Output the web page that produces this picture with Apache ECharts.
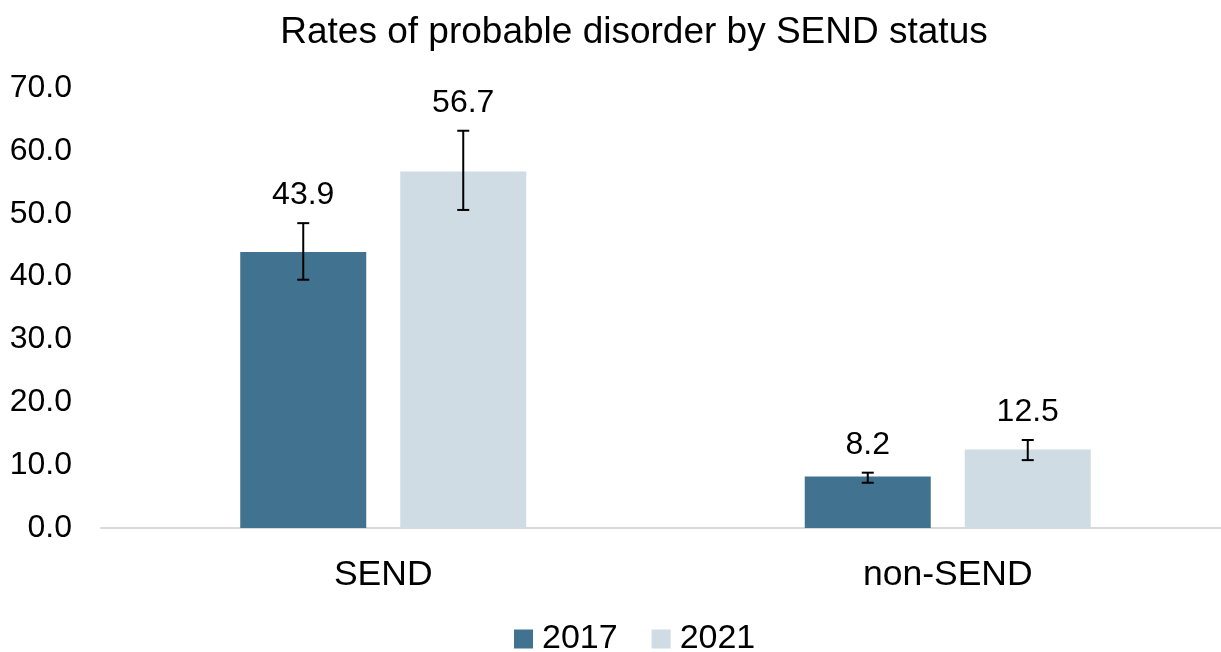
<!DOCTYPE html>
<html>
<head>
<meta charset="utf-8">
<script src="https://cdn.jsdelivr.net/npm/echarts@6/dist/echarts.min.js"></script>
<style>
	html, body { margin: 0; padding: 0; background: #ffffff; overflow: hidden; }
	#chart { width: 1230px; height: 652px; }
</style>
</head>
<body>
<div id="chart"></div>
<script>
const categories = ["SEND", "non-SEND"];
const seriesNames = ["2017", "2021"];
const values2017 = [43.9, 8.2];
const values2021 = [56.7, 12.5];
// error bar bounds
const low2017 = [39.5, 7.2];
const high2017 = [48.5, 8.8];
const low2021 = [50.6, 10.8];
const high2021 = [63.2, 14.0];
const yTicks = [0, 10, 20, 30, 40, 50, 60, 70];

const fontFamily = "'Liberation Sans', Arial, sans-serif";
const colours = ["#41728f", "#cfdce4"];
const barWidth = 126;
const barGapPx = 34;

function errorSeries(idx, values, lows, highs) {
	const shift = (idx === 0 ? -1 : 1) * (barWidth + barGapPx) / 2;
	return {
		type: "custom",
		name: seriesNames[idx] + " error",
		silent: true,
		z: 5,
		data: categories.map((c, i) => [i, lows[i], highs[i], values[i]]),
		renderItem: function (params, api) {
			const top = api.coord([api.value(0), api.value(2)]);
			const bot = api.coord([api.value(0), api.value(1)]);
			const x = top[0] + shift;
			const cap = 6;
			const style = { stroke: "#000", lineWidth: 2 };
			return {
				type: "group",
				children: [
					{ type: "line", shape: { x1: x, y1: top[1], x2: x, y2: bot[1] }, style: style },
					{ type: "line", shape: { x1: x - cap, y1: top[1], x2: x + cap, y2: top[1] }, style: style },
					{ type: "line", shape: { x1: x - cap, y1: bot[1], x2: x + cap, y2: bot[1] }, style: style },
					{
						type: "text",
						style: {
							x: x,
							y: top[1] - 12,
							text: api.value(3).toFixed(1),
							fill: "#000",
							font: "32px " + fontFamily,
							align: "center",
							verticalAlign: "bottom",
						},
					},
				],
			};
		},
	};
}

const chart = echarts.init(document.getElementById("chart"));
chart.setOption({
	animation: false,
	textStyle: { fontFamily: fontFamily },
	title: {
		text: "Rates of probable disorder by SEND status",
		left: 629,
		textAlign: "center",
		top: 9,
		textStyle: { fontSize: 37, fontWeight: "normal", color: "#000", fontFamily: fontFamily },
	},
	legend: {
		data: seriesNames,
		bottom: -9,
		left: 509,
		itemWidth: 19,
		itemHeight: 19,
		itemGap: 34,
		icon: "rect",
		textStyle: { fontSize: 34, color: "#000", fontFamily: fontFamily, padding: [0, 0, 0, 4] },
	},
	grid: { left: 101, right: 0, top: 88, bottom: 124, containLabel: false },
	xAxis: {
		type: "category",
		data: categories,
		axisLine: { lineStyle: { color: "#d9d9d9", width: 2 } },
		axisTick: { show: false },
		axisLabel: { fontSize: 35.5, color: "#000", margin: 29 },
	},
	yAxis: {
		type: "value",
		min: yTicks[0],
		max: yTicks[yTicks.length - 1],
		interval: 10,
		splitLine: { show: false },
		axisLine: { show: false },
		axisTick: { show: false },
		axisLabel: { fontSize: 32, color: "#000", margin: 29, formatter: (v) => v.toFixed(1) },
	},
	series: [
		{
			name: seriesNames[0],
			type: "bar",
			data: values2017,
			barWidth: barWidth,
			barGap: (barGapPx / barWidth * 100) + "%",
			itemStyle: { color: colours[0] },
		},
		{
			name: seriesNames[1],
			type: "bar",
			data: values2021,
			barWidth: barWidth,
			itemStyle: { color: colours[1] },
		},
		errorSeries(0, values2017, low2017, high2017),
		errorSeries(1, values2021, low2021, high2021),
	],
});
</script>
</body>
</html>
